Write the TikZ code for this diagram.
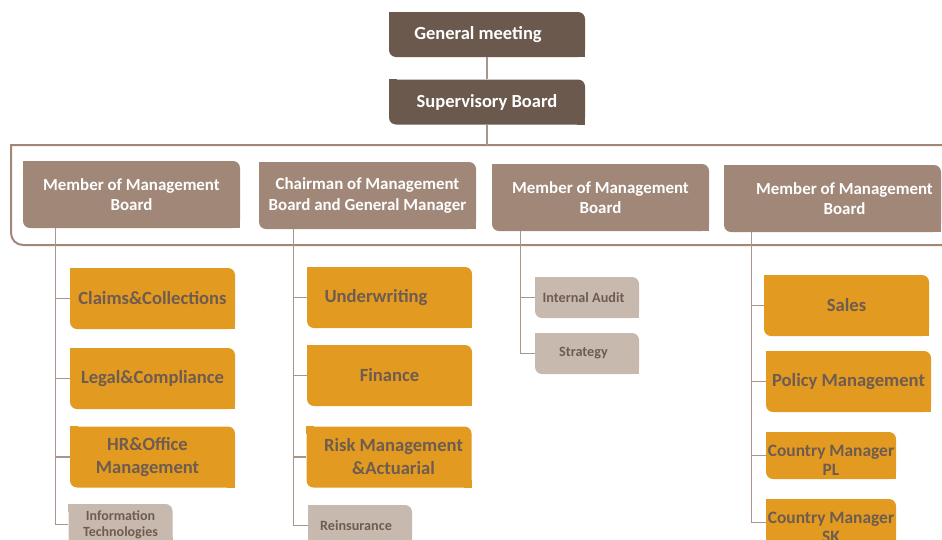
\documentclass[tikz,border=0pt]{standalone}
\usepackage{fontspec}
\setmainfont{Carlito}
\usetikzlibrary{backgrounds}

\definecolor{darkbrown}{HTML}{6B594D}
\definecolor{taupe}{HTML}{A08778}
\definecolor{lighttaupe}{HTML}{C8B9AF}
\definecolor{amber}{HTML}{E29A21}
\definecolor{textbrown}{HTML}{6E5C50}
\definecolor{linecol}{HTML}{A8968A}

\tikzset{
  orgbox/.style={rectangle, rounded corners=7pt, inner sep=1pt, align=center},
  topbox/.style={orgbox, fill=darkbrown, text=white, minimum width=196pt, minimum height=45pt, font=\bfseries\fontsize{18.5}{22}\selectfont},
  boardbox/.style={orgbox, fill=taupe, text=white, minimum width=217pt, minimum height=67pt, font=\bfseries\fontsize{16.9}{20.5}\selectfont},
  unitbox/.style={orgbox, fill=amber, text=textbrown, minimum width=165pt, minimum height=61pt, font=\bfseries\fontsize{18.6}{23}\selectfont},
  smallbox/.style={orgbox, fill=lighttaupe, text=textbrown, minimum width=104pt, minimum height=41pt, font=\bfseries\fontsize{14.2}{16.5}\selectfont},
  countrybox/.style={orgbox, fill=amber, text=textbrown, minimum width=130pt, minimum height=47pt, text height=40pt, text depth=0pt, font=\bfseries\fontsize{17.4}{19}\selectfont},
  link/.style={draw=linecol, line width=1.3pt}
}

\begin{document}
\begin{tikzpicture}[x=1pt, y=-1pt]
        \useasboundingbox (0,0) rectangle (942,539);
        \clip (0,0) rectangle (942,539);

        \draw[taupe, line width=2pt] (960,145) -- (11,145) -- (11,233) arc[start angle=180, end angle=90, radius=12] -- (960,245);  % frame

        % top
        \node[topbox] (gm) at (487,34.5) {General meeting\hspace*{18pt}};
        \node[topbox] (sb) at (487,102) {Supervisory Board};
        \coordinate (ftop) at (487,145);

        % management board
        \node[boardbox] (m1) at (131.5,194.5) {Member of Management\\Board};
        \node[boardbox] (m2) at (367.5,195.5) {Chairman of Management\\Board and General Manager};
        \node[boardbox] (m3) at (600.5,197.5) {Member of Management\\Board};
        \node[boardbox] (m4) at (832.5,198.5) {\hspace*{24pt}Member of Management\\\hspace*{24pt}Board};

        % units
        \node[unitbox] (c11) at (152.5,298.5) {Claims\&Collections};
        \node[unitbox] (c12) at (152.5,378.5) {Legal\&Compliance};
        \node[unitbox] (c13) at (152.5,457) {HR\&Office\hspace*{10pt}\\Management\hspace*{10pt}};
        \node[smallbox, font=\bfseries\fontsize{14}{16}\selectfont] (c14) at (120.5,524.5) {Information\\Technologies};

        \node[unitbox] (c21) at (389.5,297.5) {Underwriting\hspace*{27pt}};
        \node[unitbox] (c22) at (389.5,375.5) {Finance};
        \node[unitbox] (c23) at (389,457) {\hspace*{9pt}Risk Management\\\hspace*{9pt}\&Actuarial};
        \node[smallbox] (c24) at (360,525.5) {Reinsurance\hspace*{8pt}};

        \node[smallbox] (c31) at (587,297.5) {Internal Audit\hspace*{7pt}};
        \node[smallbox] (c32) at (587,353.5) {Strategy\hspace*{7pt}};

        \node[unitbox] (c41) at (846.5,305.5) {Sales};
        \node[unitbox] (c42) at (848.5,381.5) {Policy Management};
        \node[countrybox] (c43) at (831,455.5) {Country Manager\\PL};
        \node[countrybox] (c44) at (831,522.5) {Country Manager\\SK};

        % square corners
        \begin{scope}[on background layer]
        \foreach \n/\c in {gm/darkbrown, sb/darkbrown, m1/taupe, m2/taupe, m3/taupe, m4/taupe,
                           c11/amber, c12/amber, c13/amber, c14/lighttaupe, c21/amber, c22/amber, c23/amber, c24/lighttaupe,
                           c31/lighttaupe, c32/lighttaupe, c41/amber, c42/amber, c43/amber, c44/amber} {
            \fill[\c] (\n.north west) rectangle ++(8,8);
            \fill[\c] (\n.south east) rectangle ++(-8,-8);
        }
        \end{scope}

        % connectors
        \draw[link] (gm) -- (sb);
        \draw[link] (sb) -- (ftop);
        \coordinate (s1) at ([xshift=33pt]m1.south west);
        \coordinate (s2) at ([xshift=35pt]m2.south west);
        \coordinate (s3) at ([xshift=29pt]m3.south west);
        \coordinate (s4) at ([xshift=28pt]m4.south west);
        \foreach \k in {c11,c12,c13,c14} \draw[link] (s1) |- (\k.west);
        \foreach \k in {c21,c22,c23,c24} \draw[link] (s2) |- (\k.west);
        \foreach \k in {c31,c32} \draw[link] (s3) |- (\k.west);
        \foreach \k in {c41,c42,c43,c44} \draw[link] (s4) |- (\k.west);

    \end{tikzpicture}
\end{document}
